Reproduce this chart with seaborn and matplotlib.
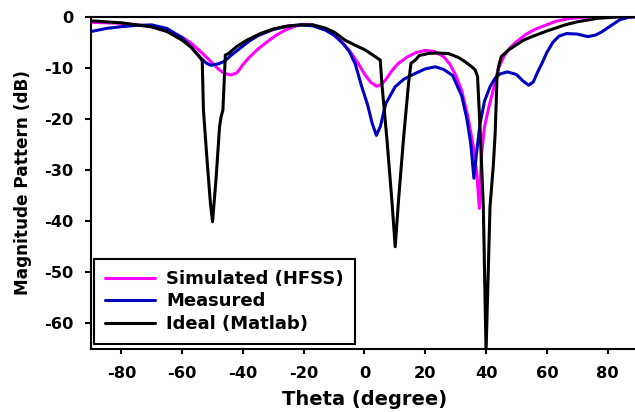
import matplotlib
matplotlib.use("Agg")
import matplotlib.pyplot as plt
import seaborn as sns

# Radiation pattern data (theta in degrees, magnitude in dB)
theta_sim = [-90, -80, -70, -65, -60, -57, -54, -51, -48, -46, -44, -42, -40, -38, -35,
             -32, -29, -26, -23, -20, -17, -14, -11, -8, -5, -2, 0, 2, 4, 5.5,
             7, 9, 11, 14, 17, 20, 23, 26, 28, 30, 32, 34, 36, 37, 37.8,
             38.5, 39.5, 41, 42.5, 44, 46, 48, 50, 53, 56, 59, 63, 67, 72, 76, 90]
sim = [-1.1, -1.3, -1.9, -2.8, -4.0, -5.2, -6.8, -8.5, -10.3, -11.1, -11.4, -11.0, -9.4, -8.0, -6.3,
       -4.9, -3.6, -2.6, -1.9, -1.5, -1.6, -2.2, -3.2, -4.6, -6.6, -9.2, -11.2, -12.8, -13.6, -13.3,
       -12.3, -10.6, -9.2, -7.9, -7.0, -6.6, -6.8, -7.8, -9.2, -11.4, -14.5, -19.5, -26, -31, -37.5,
       -27, -21.5, -17.5, -14, -10.2, -7.6, -6.0, -4.9, -3.5, -2.5, -1.8, -0.9, -0.4, -0.1, 0, 0]

theta_meas = [-90, -85, -80, -75, -70, -65, -60, -57, -54, -52, -50.5, -48, -46, -44, -41,
              -38, -35, -30, -25, -21, -17, -13, -10, -7, -5, -3, -1, 1, 2.5, 3.9,
              5.2, 7, 10.1, 13, 16.7, 20, 23.3, 26, 29, 30.5, 32, 33.7, 35, 36, 36.8,
              38, 39.5, 41.3, 43, 44.6, 47, 50, 52, 54, 55.5, 57, 58.5, 60, 62, 64,
              66.5, 70, 73.5, 76, 78, 81, 84, 87, 90]
meas = [-2.9, -2.3, -1.95, -1.7, -1.6, -2.3, -4.1, -6.0, -8.0, -9.1, -9.5, -9.2, -8.7, -7.6, -6.2,
        -4.8, -3.7, -2.5, -1.8, -1.6, -1.8, -2.6, -3.6, -5.3, -6.8, -9.3, -13.5, -17.2, -20.8, -23.2,
        -21.5, -17, -13.7, -12.2, -11.1, -10.2, -9.8, -10.3, -11.5, -13.5, -15.5, -20, -25, -31.6, -27,
        -21, -16.5, -13.7, -12, -11.2, -10.8, -11.3, -12.5, -13.4, -12.8, -10.8, -9.0, -7.0, -5.0, -3.8,
        -3.3, -3.4, -3.9, -3.6, -3.0, -1.8, -0.6, -0.1, 0]

theta_ideal = [-90, -80, -70, -65, -60, -57, -54, -53.4, -53, -51.8, -50.7, -50, -48.8, -47.7, -47.2,
               -46.6, -46.1, -45.8, -44.7, -42, -38.7, -34.3, -30, -26, -21, -17, -13, -10, -6.4, -3,
               0.2, 3.5, 5.2, 5.7, 7.4, 9, 10.1, 11.2, 12.8, 14.5, 15.3, 16.7, 18, 21, 24,
               27.6, 31, 33.1, 35.5, 36.4, 37.2, 38.1, 39.1, 40, 41.3, 42.4, 43, 43.6, 44.1, 45,
               47.4, 52.3, 55.1, 60, 66, 70, 76.9, 85, 90]
ideal = [-0.8, -1.2, -2.0, -2.9, -4.6, -6.0, -8.1, -8.6, -18.3, -28.1, -36.5, -40.1, -31.3, -21.5, -19.6,
         -18.3, -11.7, -7.5, -7.2, -5.8, -4.6, -3.3, -2.4, -1.9, -1.6, -1.6, -2.2, -3.0, -4.6, -5.6,
         -6.5, -7.8, -8.5, -13, -24.1, -35.9, -45, -35.9, -24.1, -13, -9.1, -8.5, -7.6, -7.2, -7.1,
         -7.2, -8.0, -8.8, -9.9, -10.4, -11.7, -22.8, -37.2, -65.5, -37.2, -29, -22.8, -12, -9.8, -7.8,
         -6.5, -4.6, -3.9, -2.8, -1.6, -1.0, -0.3, 0, 0]

series_labels = ["Simulated (HFSS)", "Measured", "Ideal (Matlab)"]
x_ticks = [-80, -60, -40, -20, 0, 20, 40, 60, 80]
y_ticks = [0, -10, -20, -30, -40, -50, -60]

sns.set_style("ticks")
plt.rcParams["font.family"] = ["DejaVu Sans"]
plt.rcParams["font.weight"] = "bold"
plt.rcParams["axes.labelweight"] = "bold"
plt.rcParams["text.color"] = "black"
plt.rcParams["axes.labelcolor"] = "black"
plt.rcParams["xtick.color"] = "black"
plt.rcParams["ytick.color"] = "black"

fig = plt.figure(figsize=(6.35, 4.12), dpi=100)
ax = fig.add_axes([91 / 635, 1 - 349 / 412, 547 / 635, 332.3 / 412])

lw = 2.2
sns.lineplot(x=theta_sim, y=sim, color="#FF00FF", lw=lw, label=series_labels[0],
             ax=ax, sort=False, estimator=None, solid_joinstyle="round")
sns.lineplot(x=theta_meas, y=meas, color="#0000BF", lw=lw, label=series_labels[1],
             ax=ax, sort=False, estimator=None, solid_joinstyle="round")
sns.lineplot(x=theta_ideal, y=ideal, color="#000000", lw=lw, label=series_labels[2],
             ax=ax, sort=False, estimator=None, solid_joinstyle="round")

ax.set_xlim(-90, 90)
ax.set_ylim(-65, 0)
ax.set_xticks(x_ticks)
ax.set_yticks(y_ticks)
ax.set_xticklabels([str(t) for t in x_ticks])
ax.set_yticklabels([str(t) for t in y_ticks])

for side in ["left", "bottom", "top", "right"]:
    ax.spines[side].set_visible(True)
    ax.spines[side].set_linewidth(1.5)
    ax.spines[side].set_color("black")

ax.tick_params(axis="x", direction="out", length=3.5, width=1.5, pad=9,
               labelsize=11.7, colors="black", labelcolor="black")
ax.tick_params(axis="y", direction="out", length=4, width=1.5, pad=8.5,
               labelsize=11.7, colors="black", labelcolor="black")
for lab in ax.get_xticklabels() + ax.get_yticklabels():
    lab.set_fontweight("bold")
    lab.set_color("black")

ax.set_xlabel("Theta (degree)", fontsize=14, fontweight="bold", labelpad=6, color="black")
ax.set_ylabel("Magnitude Pattern (dB)", fontsize=12.2, fontweight="bold", labelpad=9, color="black")

leg = ax.legend(loc="lower left", bbox_to_anchor=(0.0055, 0.016), borderaxespad=0,
                prop={"size": 13, "weight": "bold"}, frameon=True, fancybox=False,
                framealpha=1, edgecolor="black", handlelength=2.8, handletextpad=0.6,
                borderpad=0.6, labelspacing=0.25)
leg.get_frame().set_linewidth(1.5)
for txt in leg.get_texts():
    txt.set_color("black")

fig.savefig("out.png", dpi=100)
